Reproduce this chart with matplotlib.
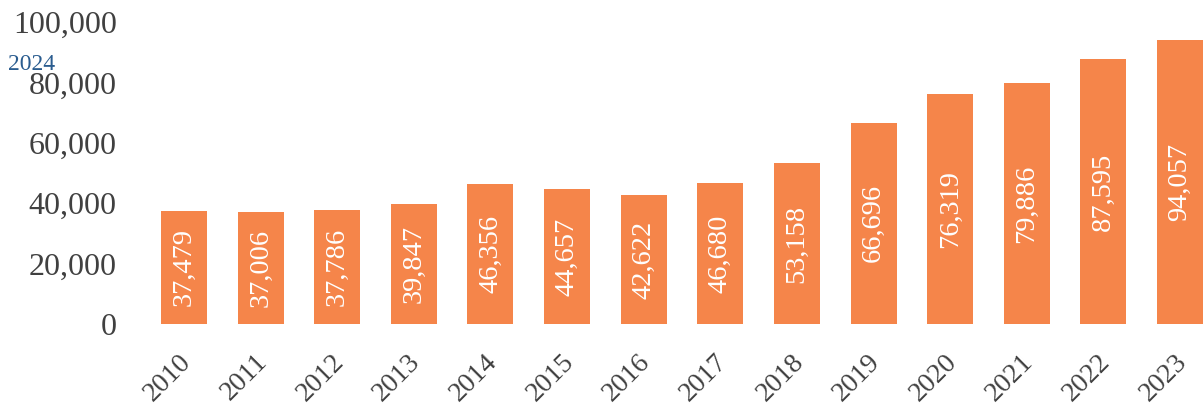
import matplotlib
matplotlib.use("Agg")
import matplotlib.pyplot as plt
from matplotlib.ticker import FuncFormatter
from matplotlib.transforms import ScaledTranslation

years = ["2010", "2011", "2012", "2013", "2014", "2015", "2016",
         "2017", "2018", "2019", "2020", "2021", "2022", "2023"]
values = [37479, 37006, 37786, 39847, 46356, 44657, 42622,
          46680, 53158, 66696, 76319, 79886, 87595, 94057]
y_ticks = [0, 20000, 40000, 60000, 80000, 100000]

plt.rcParams['font.family'] = ['Liberation Serif', 'DejaVu Serif']

W, H = 1203, 409
fig = plt.figure(figsize=(W / 100, H / 100), dpi=100)
ax_l, ax_r = 125, 1203
ax_b, ax_t = 324, 22
ax = fig.add_axes([ax_l / W, 1 - ax_b / H, (ax_r - ax_l) / W, (ax_b - ax_t) / H])

bar_color = "#F5854A"
text_color = "#404040"
x = list(range(len(years)))
ax.bar(x, values, width=0.6, color=bar_color)

for xi, v in zip(x, values):
    ax.text(xi, v / 2, f"{v:,}", rotation=90, ha="center", va="center",
            color="white", fontsize=20.5)

ax.set_xlim(-0.77, 13.30)
ax.set_ylim(0, 100000)
ax.set_yticks(y_ticks)
ax.yaxis.set_major_formatter(FuncFormatter(lambda v, p: f"{int(v):,}"))
ax.set_xticks(x)
ax.set_xticklabels(years, rotation=45, ha="right", rotation_mode="anchor")
ax.tick_params(axis="both", length=0, colors=text_color)
ax.tick_params(axis="y", pad=6, labelsize=23)
ax.tick_params(axis="x", pad=18, labelsize=20)
shift = ScaledTranslation(-6 / 100, 0, fig.dpi_scale_trans)
for lbl in ax.get_xticklabels():
    lbl.set_transform(lbl.get_transform() + shift)
for s in ax.spines.values():
    s.set_visible(False)

fig.text(8 / W, 1 - 64 / H, "2024", color="#2A5C8F", fontsize=17, va="center", ha="left")

fig.savefig("out.png", dpi=100)
